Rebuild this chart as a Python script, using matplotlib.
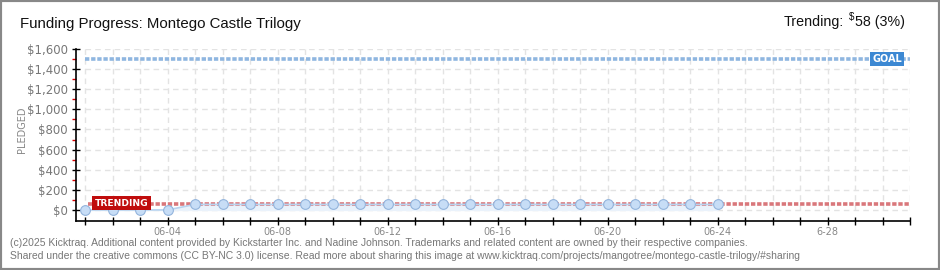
import matplotlib
matplotlib.use("Agg")
import matplotlib.pyplot as plt
from matplotlib.patches import Rectangle

# daily pledged totals, 06-01 .. 06-24
days = list(range(24))
pledged = [0, 0, 0, 0] + [55] * 20
goal = 1500
trend = 58
tick_days = list(range(31))
label_days = [3, 7, 11, 15, 19, 23, 27]
label_text = ["06-04", "06-08", "06-12", "06-16", "06-20", "06-24", "6-28"]

narrow = "Liberation Sans"

fig = plt.figure(figsize=(9.4, 2.7), dpi=100)
fig.patches.append(Rectangle((0, 0), 1, 1, transform=fig.transFigure,
                             fill=False, edgecolor="#888888", lw=3))

ax = fig.add_axes([76 / 940, 49 / 270, (910 - 76) / 940, 172 / 270])
ax.set_xlim(-0.33, 30)
ax.set_ylim(-110, 1600)

# grid
for d in tick_days:
    ax.plot([d, d], [0, 1600], color="#e3e3e3", lw=1, ls=(0, (4, 3)), zorder=0)
for v in range(0, 1601, 200):
    ax.plot([0, 30], [v, v], color="#e3e3e3", lw=1, ls=(0, (4, 3)), zorder=0)

ax.fill_between(days, pledged, 0, color="#eaf2fb", zorder=1)
ax.plot(days, pledged, color="#b8d3ef", lw=1.2, zorder=3)
ax.plot(days, pledged, "o", ms=7, mfc="#c7ddf6", mec="#93b4dc", mew=0.8, zorder=4)

ax.plot([0, 30.1], [goal, goal], color="#8fb6e0", lw=2.6, ls=(0, (1.2, 0.5)), zorder=2)
ax.plot([0.1, 30.1], [trend, trend], color="#d9777b", lw=2.6, ls=(0, (1.2, 0.5)), zorder=2)

ax.text(28.62, goal, "GOAL", color="white", fontsize=7, fontweight="bold",
        va="center", ha="left", zorder=6,
        bbox=dict(boxstyle="square,pad=0.25", fc="#3c88d3", ec="none"))
ax.text(0.35, trend + 10, "TRENDING", color="white", fontsize=6.6, fontweight="bold",
        va="center", ha="left", zorder=6,
        bbox=dict(boxstyle="square,pad=0.3", fc="#c00d0d", ec="none"))

for s in ["top", "right"]:
    ax.spines[s].set_visible(False)
ax.spines["left"].set_bounds(-110, 1600)
ax.spines["left"].set_linewidth(1.2)
ax.spines["bottom"].set_linewidth(1.2)

ax.set_yticks(range(0, 1601, 200))
ax.set_yticklabels(["$0", "$200", "$400", "$600", "$800", "$1,000",
                    "$1,200", "$1,400", "$1,600"])
ax.set_yticks(range(100, 1600, 200), minor=True)
ax.tick_params(axis="y", which="major", direction="inout", length=6, width=1,
               color="black", labelsize=8.5, labelcolor="#777777", pad=3)
ax.tick_params(axis="y", which="minor", length=3, width=1, color="#dd0000")

ax.set_xticks(tick_days)
xlabels = ["" for _ in tick_days]
for d, t in zip(label_days, label_text):
    xlabels[d] = t
ax.set_xticklabels(xlabels)
ax.tick_params(axis="x", which="major", direction="inout", length=6, width=1,
               color="black", labelsize=7, labelcolor="#888888", pad=1)

fig.text(22 / 940, 1 - 130 / 270, "PLEDGED", rotation=90, fontsize=7,
         color="#888888", ha="center", va="center")

fig.text(20 / 940, 1 - 24 / 270, "Funding Progress: Montego Castle Trilogy",
         fontsize=10.8, family=narrow, color="#111111", ha="left", va="center")

# right-hand trending text, built right to left
fig.canvas.draw()
r = fig.canvas.get_renderer()
t1 = fig.text(905 / 940, 1 - 22 / 270, "58 (3%)", fontsize=10.3, family=narrow,
              color="#111111", ha="right", va="center")
w1 = t1.get_window_extent(r).x0
t2 = fig.text((w1 - 1) / 940, 1 - 17 / 270, "$", fontsize=7, family=narrow,
              color="#111111", ha="right", va="center")
w2 = t2.get_window_extent(r).x0
fig.text((w2 - 5) / 940, 1 - 22 / 270, "Trending:", fontsize=10.3, family=narrow,
         color="#111111", ha="right", va="center")

footer = ["(c)2025 Kicktraq. Additional content provided by Kickstarter Inc. and Nadine Johnson. "
          "Trademarks and related content are owned by their respective companies.",
          "Shared under the creative commons (CC BY-NC 3.0) license. Read more about sharing this "
          "image at www.kicktraq.com/projects/mangotree/montego-castle-trilogy/#sharing"]
fig.text(10 / 940, 1 - 243 / 270, footer[0], fontsize=7.5, family=narrow,
         color="#777777", ha="left", va="center")
fig.text(10 / 940, 1 - 256 / 270, footer[1], fontsize=7.5, family=narrow,
         color="#777777", ha="left", va="center")

fig.savefig("out.png", dpi=100)
